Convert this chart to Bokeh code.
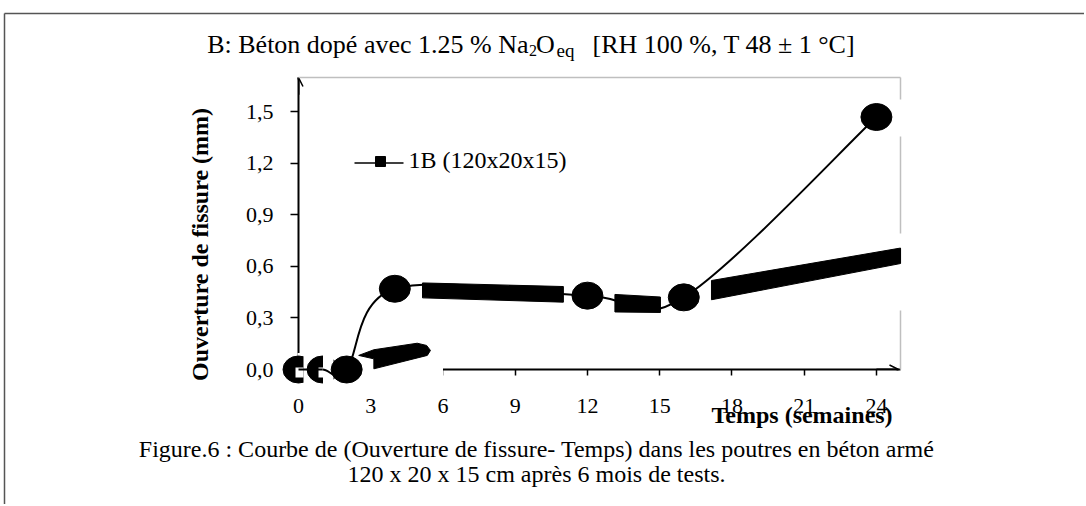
import math
from bokeh.plotting import figure
from bokeh.models import Range1d, FixedTicker, CustomJSTickFormatter, Arrow, OpenHead
from bokeh.core.properties import value
from bokeh.embed import file_html
from bokeh.resources import INLINE

# ---------------- data ----------------
weeks = [0, 1, 2, 4, 12, 16, 24]
opening_mm = [0.0, 0.0, 0.0, 0.47, 0.43, 0.42, 1.47]
x_ticks = [0, 3, 6, 9, 12, 15, 18, 21, 24]
y_ticks = [0.0, 0.3, 0.6, 0.9, 1.2, 1.5]
series_label = "1B (120x20x15)"
x_title = "Temps (semaines)"
y_title = "Ouverture de fissure (mm)"
title_a = "B: Béton dopé avec 1.25 % Na"
title_sub1 = "2"
title_b = "O"
title_sub2 = "eq"
title_c = "[RH 100 %, T 48 ± 1 °C]"
caption_1 = "Figure.6 : Courbe de (Ouverture de fissure- Temps) dans les poutres en béton armé"
caption_2 = "120 x 20 x 15 cm après 6 mois de tests."

# distorted square markers of the exported series (weeks, mm)
smear_wedge_x = [2.50, 3.13, 4.93, 5.32, 5.48, 5.35, 3.13, 3.13]
smear_wedge_y = [0.082, 0.115, 0.153, 0.140, 0.111, 0.082, 0.004, 0.062]
smear_b_x = [5.15, 11.0, 11.0, 5.15]
smear_b_y = [0.504, 0.483, 0.392, 0.417]
smear_c_x = [13.14, 15.03, 15.03, 13.14]
smear_c_y = [0.437, 0.422, 0.332, 0.335]
smear_d_x = [17.15, 25.0, 25.0, 17.15]
smear_d_y = [0.518, 0.707, 0.617, 0.406]

# ---------------- layout ----------------
W, H = 1084, 504
FL, FR, FT, FB = 298, 900, 77, 369          # frame edges on the canvas
XMAX, YMAX = 25.0, 1.7
PXU = (FR - FL) / XMAX
PYU = (FB - FT) / YMAX


def dx(px):
    return (px - FL) / PXU


def dy(py):
    return (FB - py) / PYU


p = figure(width=W, height=H, x_range=Range1d(0, XMAX), y_range=Range1d(0, YMAX),
           output_backend="svg", toolbar_location=None, title=None,
           min_border_left=FL, min_border_right=W - FR, min_border_top=FT, min_border_bottom=H - FB)
p.outline_line_color = None
p.grid.visible = False
p.background_fill_color = "white"
p.border_fill_color = "white"

p.xaxis.ticker = FixedTicker(ticks=x_ticks, minor_ticks=[])
p.yaxis.ticker = FixedTicker(ticks=y_ticks, minor_ticks=[])
p.yaxis.formatter = CustomJSTickFormatter(code="return tick.toFixed(1).replace('.', ',');")
for ax in (p.xaxis, p.yaxis):
    ax.axis_line_color = "black"
    ax.axis_line_width = 2
    ax.major_tick_line_color = "black"
    ax.major_tick_line_width = 1.5
    ax.major_tick_in = 0
    ax.minor_tick_line_color = None
    ax.major_label_text_font = "Liberation Serif"
    ax.major_label_text_font_size = "22px"
    ax.major_label_text_color = "black"
p.yaxis.major_tick_out = 8
p.yaxis.major_label_standoff = 17
p.xaxis.major_tick_out = 6
p.xaxis.major_label_standoff = 23

# axis arrows
p.add_layout(Arrow(end=OpenHead(size=9, line_width=1.5, line_color="black"),
                   x_start=0, y_start=YMAX - 0.1, x_end=0, y_end=YMAX,
                   line_width=2, line_color="black"))
p.add_layout(Arrow(end=OpenHead(size=9, line_width=1.5, line_color="black"),
                   x_start=XMAX - 1, y_start=0, x_end=dx(898), y_end=0,
                   line_width=2, line_color="black"))

OV = dict(level="overlay")

# plot-area border (light grey, top and right)
p.segment(x0=[0, XMAX], y0=[YMAX, 0], x1=[XMAX, XMAX], y1=[YMAX, YMAX],
          line_color="#bfbfbf", line_width=1.5, **OV)
# outer figure frame
p.segment(x0=[dx(4), dx(4)], y0=[dy(13), dy(13)], x1=[dx(1100), dx(4)], y1=[dy(13), dy(520)],
          line_color="#555555", line_width=1.5, **OV)

WH = dict(fill_color="white", line_color=None, **OV)
# white patches of the export
p.quad(left=[dx(297)], right=[dx(442.5)], top=[dy(352.5)], bottom=[dy(382)], **WH)
p.quad(left=[dx(898.3)] * 3, right=[dx(905)] * 3,
       top=[dy(99), dy(233), dy(263)], bottom=[dy(136), dy(248), dy(310)], **WH)

EL = dict(width=31, height=27, width_units="screen", height_units="screen",
          fill_color="black", line_color="black", **OV)
p.ellipse(x=weeks[:1], y=opening_mm[:1], **EL)
p.quad(left=[dx(303)], right=[dx(333)], top=[dy(350)], bottom=[dy(392)], **WH)
p.quad(left=[dx(295)], right=[dx(303)], top=[dy(367)], bottom=[dy(377)], **WH)
p.ellipse(x=weeks[1:2], y=opening_mm[1:2], **EL)
p.quad(left=[dx(322.5)], right=[dx(333)], top=[dy(350)], bottom=[dy(392)], **WH)
p.quad(left=[dx(318)], right=[dx(322.5)], top=[dy(367)], bottom=[dy(377)], **WH)
p.ellipse(x=weeks[2:], y=opening_mm[2:], **EL)

# smoothed line (Excel-like cubic Bezier through the points)
n = len(weeks)
bx0, by0, bx1, by1, cx0, cy0, cx1, cy1 = ([] for _ in range(8))
for i in range(n - 1):
    xp, yp = (weeks[i - 1], opening_mm[i - 1]) if i > 0 else (weeks[i], opening_mm[i])
    xn, yn = (weeks[i + 2], opening_mm[i + 2]) if i + 2 < n else (weeks[i + 1], opening_mm[i + 1])
    bx0.append(weeks[i]); by0.append(opening_mm[i])
    bx1.append(weeks[i + 1]); by1.append(opening_mm[i + 1])
    cx0.append(weeks[i] + (weeks[i + 1] - xp) / 6); cy0.append(opening_mm[i] + (opening_mm[i + 1] - yp) / 6)
    cx1.append(weeks[i + 1] - (xn - weeks[i]) / 6); cy1.append(opening_mm[i + 1] - (yn - opening_mm[i]) / 6)
p.bezier(x0=bx0, y0=by0, x1=bx1, y1=by1, cx0=cx0, cy0=cy0, cx1=cx1, cy1=cy1,
         line_color="black", line_width=2, **OV)

BL = dict(fill_color="black", line_color="black", line_width=1, **OV)
p.patch(x=smear_wedge_x, y=smear_wedge_y, **BL)
p.patch(x=smear_b_x, y=smear_b_y, **BL)
p.patch(x=smear_c_x, y=smear_c_y, **BL)
p.patch(x=smear_d_x, y=smear_d_y, **BL)

# legend
p.segment(x0=[dx(354)], y0=[dy(162.5)], x1=[dx(403)], y1=[dy(162.5)], line_color="black", line_width=1.5, **OV)
p.scatter(x=[dx(380)], y=[dy(161)], marker="square", size=10, fill_color="black", line_color="black", **OV)

SERIF = "Liberation Serif"


def lab(text, px, py, size, align="left", baseline="alphabetic", bold=False, angle=0.0):
    p.text(x=[dx(px)], y=[dy(py)], text=[text], text_font=value(SERIF), text_font_size=value(size),
           text_align=align, text_baseline=baseline, angle=angle,
           text_font_style="bold" if bold else "normal", text_color="black", **OV)


lab(series_label, 408, 159.5, "24px")
lab(title_a, 528, 43.5, "26px", align="right")
lab(title_sub1, 528.5, 50, "16px")
lab(title_b, 535.5, 43.5, "26px")
lab(title_sub2, 556, 50, "19px")
lab(title_c, 592, 43.5, "26px")
lab(x_title, 711, 414.5, "24px", bold=True)
lab(y_title, 199, 244, "24px", align="center", baseline="middle", bold=True, angle=math.pi / 2)
lab(caption_1, 536, 448, "24px", align="center")
lab(caption_2, 536, 473, "24px", align="center")

open("out.html", "w").write(file_html(p, INLINE))
